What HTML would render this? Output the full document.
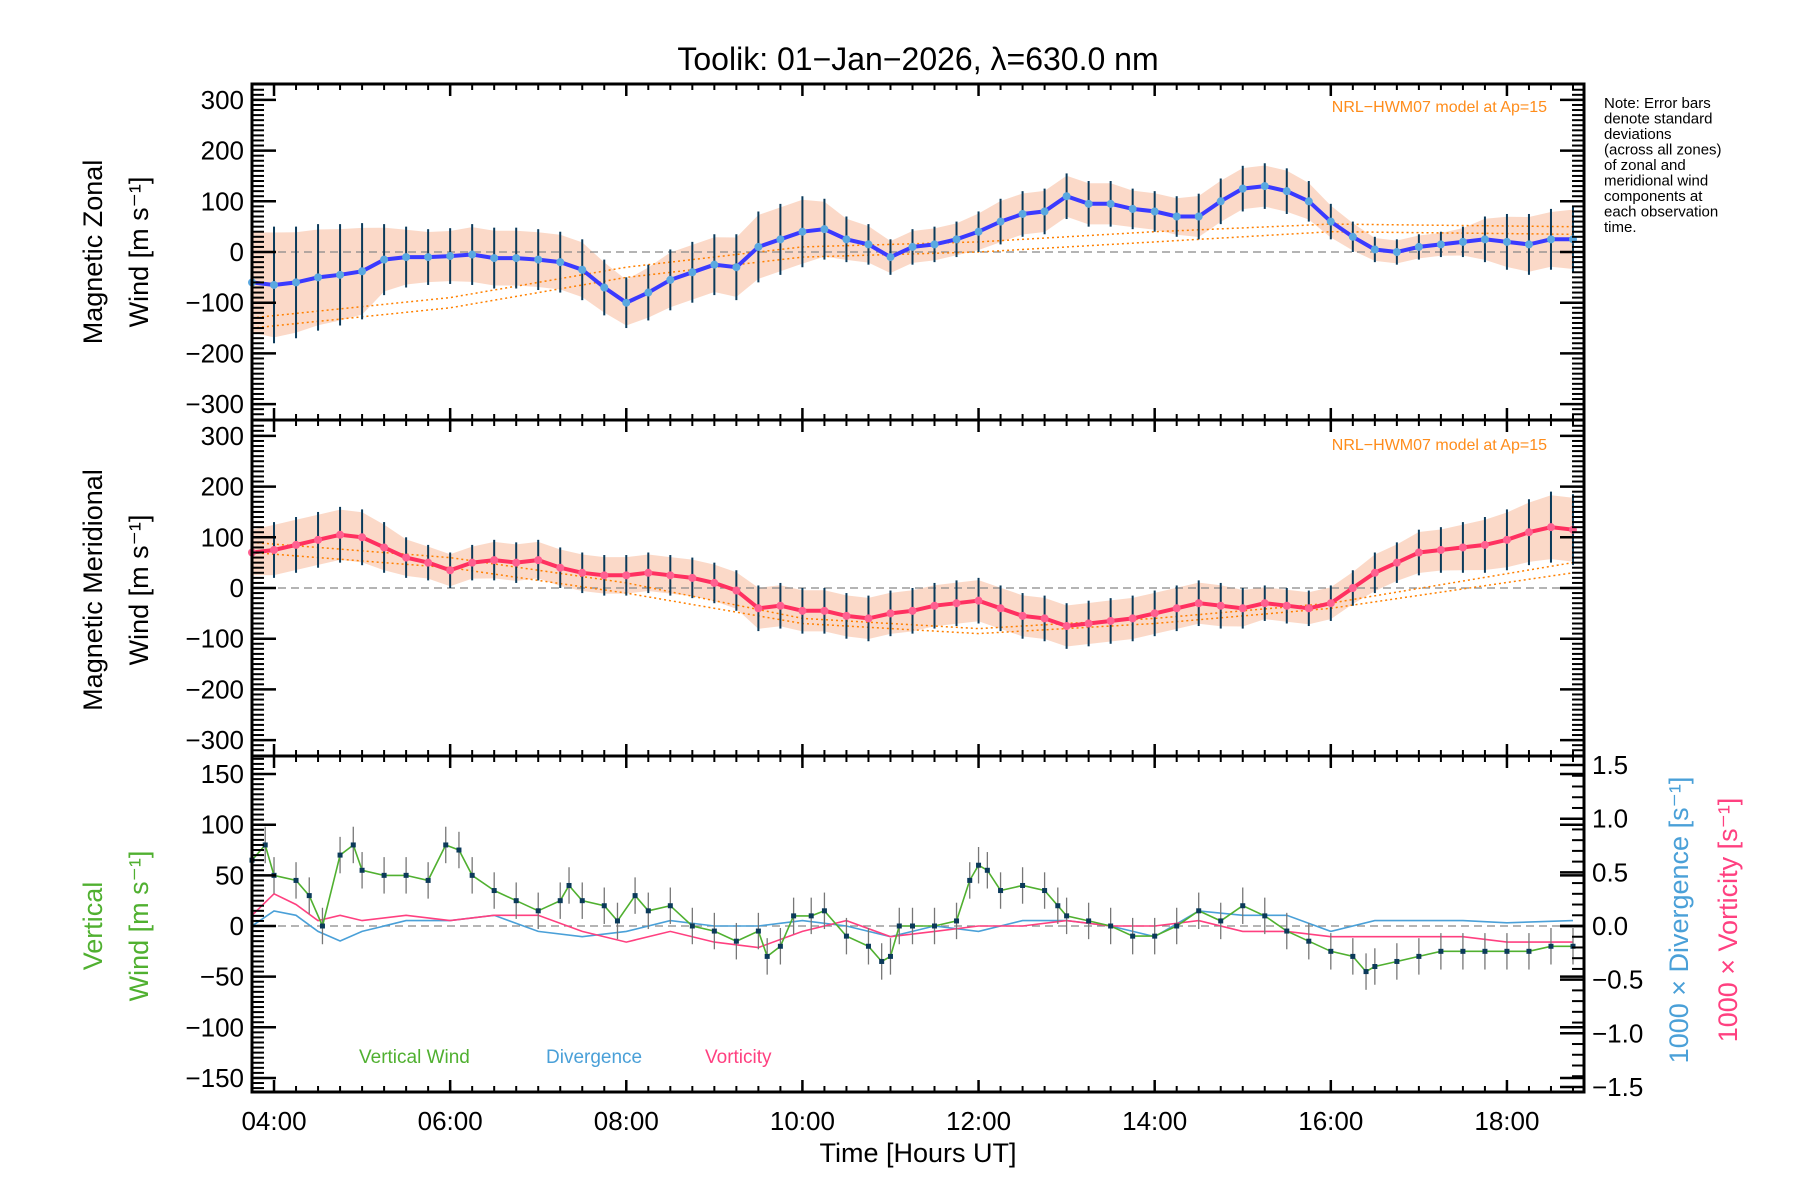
<!DOCTYPE html>
<html><head><meta charset="utf-8"><style>
html,body{margin:0;padding:0;background:#fff;}
svg{display:block;font-family:"Liberation Sans",sans-serif;}
</style></head><body>
<svg id="c" width="1800" height="1200" xmlns="http://www.w3.org/2000/svg"></svg>
<script>
// ---------- data ----------
const zonalTimes=[3.75,4,4.25,4.5,4.75,5,5.25,5.5,5.75,6,6.25,6.5,6.75,7,7.25,7.5,7.75,8,8.25,8.5,8.75,9,9.25,9.5,9.75,10,10.25,10.5,10.75,11,11.25,11.5,11.75,12,12.25,12.5,12.75,13,13.25,13.5,13.75,14,14.25,14.5,14.75,15,15.25,15.5,15.75,16,16.25,16.5,16.75,17,17.25,17.5,17.75,18,18.25,18.5,18.75];
const zonalWind=[-60,-65,-60,-50,-45,-38,-15,-10,-10,-8,-5,-12,-12,-15,-20,-35,-70,-100,-80,-55,-40,-25,-30,10,25,40,45,25,15,-10,10,15,25,40,60,75,80,110,95,95,85,80,70,70,100,125,130,120,100,60,30,5,0,10,15,20,25,20,15,25,25];
const zonalErr=[110,115,110,105,100,95,70,60,55,55,60,60,60,60,60,60,55,50,55,60,60,60,65,70,70,70,60,45,40,35,35,35,35,40,45,45,45,45,45,45,40,40,40,45,45,45,45,45,40,35,30,25,25,25,25,30,45,55,60,60,65];
const meridTimes=zonalTimes;
const meridWind=[70,75,85,95,105,100,80,60,50,35,50,55,50,55,40,30,25,25,30,25,20,10,-5,-40,-35,-45,-45,-55,-60,-50,-45,-35,-30,-25,-40,-55,-60,-75,-70,-65,-60,-50,-40,-30,-35,-40,-30,-35,-40,-30,0,30,50,70,75,80,85,95,110,120,115];
const meridErr=[50,55,55,55,55,55,50,40,35,35,35,40,40,40,40,40,40,40,40,40,40,40,40,45,45,45,45,45,45,45,45,45,45,45,45,45,45,45,45,45,45,45,45,45,45,40,35,35,35,35,35,40,40,45,45,50,55,60,65,70,70];
const modelTimes=[3.75,6,8,10,12,14,16,18.75];
const modelZonalA=[-130,-90,-30,10,20,40,55,50];
const modelZonalB=[-150,-110,-50,-10,0,20,40,35];
const modelMeridA=[90,60,10,-60,-80,-60,-30,50];
const modelMeridB=[70,40,-10,-70,-90,-70,-40,30];
const vertTimes=[3.75,3.9,4,4.25,4.4,4.55,4.75,4.9,5,5.25,5.5,5.75,5.95,6.1,6.25,6.5,6.75,7,7.25,7.35,7.5,7.75,7.9,8.1,8.25,8.5,8.75,9,9.25,9.5,9.6,9.75,9.9,10.1,10.25,10.5,10.75,10.9,11,11.1,11.25,11.5,11.75,11.9,12,12.1,12.25,12.5,12.75,12.9,13,13.25,13.5,13.75,14,14.25,14.5,14.75,15,15.25,15.5,15.75,16,16.25,16.4,16.5,16.75,17,17.25,17.5,17.75,18,18.25,18.5,18.75];
const vertWind=[65,80,50,45,30,0,70,80,55,50,50,45,80,75,50,35,25,15,25,40,25,20,5,30,15,20,0,-5,-15,-5,-30,-20,10,10,15,-10,-20,-35,-30,0,0,0,5,45,60,55,35,40,35,20,10,5,0,-10,-10,0,15,5,20,10,-5,-15,-25,-30,-45,-40,-35,-30,-25,-25,-25,-25,-25,-20,-20];
const divTimes=[3.75,4,4.25,4.5,4.75,5,5.5,6,6.5,7,7.5,8,8.5,9,9.5,10,10.5,11,11.5,12,12.5,13,13.5,14,14.5,15,15.5,16,16.5,17,17.5,18,18.75];
const divergence=[0,0.14,0.1,-0.05,-0.14,-0.05,0.05,0.05,0.1,-0.05,-0.1,-0.05,0.05,0,0,0.05,0,-0.1,0,-0.05,0.05,0.05,0,-0.1,0.14,0.1,0.1,-0.05,0.05,0.05,0.05,0.03,0.05];
const vortTimes=divTimes;
const vorticity=[0.1,0.3,0.2,0.05,0.1,0.05,0.1,0.05,0.1,0.1,-0.05,-0.15,-0.05,-0.15,-0.2,-0.05,0.05,-0.1,-0.05,0,0,0.05,0,0,0.05,-0.05,-0.05,-0.1,-0.1,-0.1,-0.1,-0.15,-0.15];
const xTicks=[4,6,8,10,12,14,16,18];
const xTickLabels=["04:00","06:00","08:00","10:00","12:00","14:00","16:00","18:00"];
const windTicks=[300,200,100,0,-100,-200,-300];
const vertTicks=[150,100,50,0,-50,-100,-150];
const rightTicks=[1.5,1.0,0.5,0.0,-0.5,-1.0,-1.5];

// ---------- geometry ----------
const L=252,R=1584,T0=84,B1=420,B2=756,B3=1092;
const t0=3.75,t1=18.875;
const X=t=>L+(t-t0)/(t1-t0)*(R-L);
const Y1=v=>252-v*0.507, Y2=v=>588-v*0.507, Y3=v=>926-v*1.013, YR=v=>926-v*107.3;
const svg=document.getElementById('c');
const NS="http://www.w3.org/2000/svg";
function el(tag,attrs,parent){const e=document.createElementNS(NS,tag);for(const k in attrs)e.setAttribute(k,attrs[k]);(parent||svg).appendChild(e);return e;}
function txt(s,x,y,attrs){const e=el('text',Object.assign({x:x,y:y},attrs));e.textContent=s;return e;}
function pathFrom(ts,vs,yf){return ts.map((t,i)=>(i?'L':'M')+X(t).toFixed(1)+','+yf(vs[i]).toFixed(1)).join('');}

// title
let e=txt("Toolik: 01\u2212Jan\u22122026, \u03bb=630.0 nm",918,70,{'font-size':32,'text-anchor':'middle'});



function windPanel(name,times,vals,errs,Y,col,mA,mB){
  const g=el('g',{});
  
  
  // pale band
  const up=times.map((t,i)=>X(t)+','+Y(vals[i]+errs[i]*0.9));
  const dn=times.map((t,i)=>X(t)+','+Y(vals[i]-errs[i]*0.9)).reverse();
  let b=el('polygon',{points:up.concat(dn).join(' '),fill:'#f9c9b0',opacity:0.7},g);
  
  
  el('line',{x1:L,x2:R,y1:Y(0),y2:Y(0),stroke:'#888','stroke-dasharray':'8,5','stroke-width':1.2},g);
  [mA,mB].forEach((m,k)=>{let p=el('path',{d:pathFrom(modelTimes,m,Y),fill:'none',stroke:'#ff8000','stroke-width':1.5,'stroke-dasharray':'2,3'},g);
    
    });
  times.forEach((t,i)=>{let l=el('line',{x1:X(t),x2:X(t),y1:Y(vals[i]+errs[i]),y2:Y(vals[i]-errs[i]),stroke:'#0b3a5a','stroke-width':2},g);
    
    });
  let p=el('path',{d:pathFrom(times,vals,Y),fill:'none',stroke:col,'stroke-width':4},g);
  
  
  times.forEach((t,i)=>{let c=el('circle',{cx:X(t),cy:Y(vals[i]),r:4,fill:col==='#3a3aff'?'#5aa8e0':'#ff6090'},g);
    
    });
}
windPanel('zonal',zonalTimes,zonalWind,zonalErr,Y1,'#3a3aff',modelZonalA,modelZonalB);
windPanel('meridional',meridTimes,meridWind,meridErr,Y2,'#ff3060',modelMeridA,modelMeridB);

// vertical panel
el('line',{x1:L,x2:R,y1:Y3(0),y2:Y3(0),stroke:'#888','stroke-dasharray':'8,5','stroke-width':1.2});
let dv=el('path',{d:pathFrom(divTimes,divergence,YR),fill:'none',stroke:'#4aa0d8','stroke-width':1.6});


let vt=el('path',{d:pathFrom(vortTimes,vorticity,YR),fill:'none',stroke:'#ff4080','stroke-width':1.6});


vertTimes.forEach((t,i)=>{let l=el('line',{x1:X(t),x2:X(t),y1:Y3(vertWind[i]+18),y2:Y3(vertWind[i]-18),stroke:'#777','stroke-width':1.3});
  
  });
let vw=el('path',{d:pathFrom(vertTimes,vertWind,Y3),fill:'none',stroke:'#50b030','stroke-width':1.6});


vertTimes.forEach((t,i)=>{let r=el('rect',{x:X(t)-2.5,y:Y3(vertWind[i])-2.5,width:5,height:5,fill:'#0b3a5a'});
  
  });

// frames & ticks
[[T0,B1,windTicks,Y1,'zonal'],[B1,B2,windTicks,Y2,'meridional'],[B2,B3,vertTicks,Y3,'vertical']].forEach(([top,bot,ticks,Y,n])=>{
  let f=el('rect',{x:L,y:top,width:R-L,height:bot-top,fill:'none',stroke:'#000','stroke-width':3});
  
  
  ticks.forEach(v=>{el('line',{x1:L,x2:L+24,y1:Y(v),y2:Y(v),stroke:'#000','stroke-width':2.5});
    el('line',{x1:R,x2:R-24,y1:Y(v),y2:Y(v),stroke:'#000','stroke-width':2.5});
    let t=txt((v<0?'\u2212':'')+Math.abs(v),244,Y(v)+9,{'font-size':26,'text-anchor':'end'});
    
    });
  const step=(ticks[0]-ticks[1])/10;
  for(let v=ticks[ticks.length-1]-step*3;v<=ticks[0]+step*3;v+=step){const y=Y(v);if(y<top+2||y>bot-2)continue;
    el('line',{x1:L,x2:L+12,y1:y,y2:y,stroke:'#000','stroke-width':2});
    if(n!=='vertical')el('line',{x1:R,x2:R-12,y1:y,y2:y,stroke:'#000','stroke-width':2});}
  xTicks.forEach(t=>{el('line',{x1:X(t),x2:X(t),y1:bot,y2:bot-12,stroke:'#000','stroke-width':2.5});el('line',{x1:X(t),x2:X(t),y1:top,y2:top+12,stroke:'#000','stroke-width':2.5});});
  for(let t=4;t<=18.875;t+=0.25){el('line',{x1:X(t),x2:X(t),y1:bot,y2:bot-6,stroke:'#000','stroke-width':2});el('line',{x1:X(t),x2:X(t),y1:top,y2:top+6,stroke:'#000','stroke-width':2});}
});
rightTicks.forEach(v=>{let y=YR(v);el('line',{x1:R,x2:R-24,y1:y,y2:y,stroke:'#000','stroke-width':2.5});
  for(let k=1;k<5;k++){const yy=YR(v-k*0.1);if(v>-1.5)el('line',{x1:R,x2:R-12,y1:yy,y2:yy,stroke:'#000','stroke-width':2});}
  let t=txt((v<0?'\u2212':'')+Math.abs(v).toFixed(1),1592,y+9,{'font-size':26});
  
  });
xTicks.forEach((t,i)=>{let s=txt(xTickLabels[i],X(t),1130,{'font-size':26,'text-anchor':'middle'});
  
  });

// axis titles
function vtitle(lines,x,cy,colors,name){const g=el('text',{transform:`translate(${x},${cy}) rotate(-90)`,'font-size':27,'text-anchor':'middle'});
  
  
  lines.forEach((s,i)=>{const ts=el('tspan',{x:0,dy:i?46:0,fill:colors[i]},g);ts.textContent=s;});}
vtitle(["Magnetic Zonal","Wind [m s\u207B\u00B9]"],102,252,['#000','#000'],'zonal-y-axis-title');
vtitle(["Magnetic Meridional","Wind [m s\u207B\u00B9]"],102,590,['#000','#000'],'meridional-y-axis-title');
vtitle(["Vertical","Wind [m s\u207B\u00B9]"],102,926,['#50b030','#50b030'],'vertical-y-axis-title');
vtitle(["1000 \u00D7 Divergence [s\u207B\u00B9]"],1688,920,['#4aa0d8'],'divergence-axis-title');
vtitle(["1000 \u00D7 Vorticity [s\u207B\u00B9]"],1737,920,['#ff4080'],'vorticity-axis-title');
e=txt("Time [Hours UT]",918,1162,{'font-size':27,'text-anchor':'middle'});



// annotations
[112,450].forEach(y=>{let a=txt("NRL\u2212HWM07 model at Ap=15",1547,y,{'font-size':16,'text-anchor':'end',fill:'#ff8c1a'});
  
  });
const note=["Note: Error bars","denote standard","deviations","(across all zones)","of zonal and","meridional wind","components at","each observation","time."];
note.forEach((s,i)=>{let a=txt(s,1604,108+i*15.5,{'font-size':15});
  
  });
[["Vertical Wind",359,'#50b030'],["Divergence",546,'#4aa0d8'],["Vorticity",705,'#ff4080']].forEach(([s,x,c])=>{
  let a=txt(s,x,1063,{'font-size':19,fill:c});
  
  });
</script>
</body></html>
